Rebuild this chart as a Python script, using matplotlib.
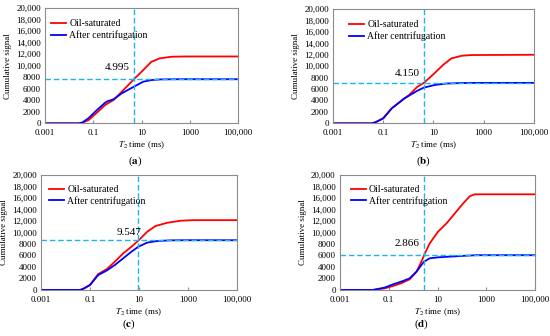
import numpy as np
import matplotlib.pyplot as plt
from matplotlib.ticker import FixedLocator, FuncFormatter

plt.rcParams['font.family'] = ['Liberation Serif', 'DejaVu Serif']
plt.rcParams['mathtext.fontset'] = 'stix'

# log10(T2) positions and cumulative signal
# panel (a)
a_red_x = [-3, -1.6, -1.45, -1.19, -0.85, -0.51, -0.16, 0.18, 0.68, 1.07, 1.41, 1.75, 2.23, 2.8, 5.0]
a_red_y = [0, 0, 100, 570, 1840, 3170, 4040, 5480, 7630, 9240, 10680, 11270, 11550, 11600, 11600]
a_blue_x = [-3, -1.6, -1.45, -1.19, -0.85, -0.51, -0.4, -0.16, 0.18, 0.68, 1.07, 1.41, 1.8, 2.5, 5.0]
a_blue_y = [0, 0, 150, 900, 2300, 3570, 3850, 4160, 5200, 6350, 7220, 7510, 7620, 7650, 7650]

# panel (b)
b_red_x = [-3, -1.45, -1.3, -1.0, -0.66, -0.32, 0.03, 0.36, 0.61, 1.04, 1.38, 1.72, 2.13, 2.5, 5.0]
b_red_y = [0, 0, 200, 870, 2620, 3790, 4950, 6400, 7050, 8750, 10200, 11370, 11830, 11950, 12000]
b_blue_x = [-3, -1.45, -1.3, -1.0, -0.66, -0.32, -0.18, 0.36, 0.61, 1.04, 1.5, 2.13, 2.8, 5.0]
b_blue_y = [0, 0, 200, 870, 2620, 3790, 4300, 5700, 6230, 6700, 6960, 7050, 7080, 7080]

# panel (c)
c_red_x = [-3, -1.4, -1.25, -1.0, -0.66, -0.32, 0.02, 0.36, 0.70, 0.98, 1.34, 1.68, 2.16, 2.7, 3.2, 5.0]
c_red_y = [0, 0, 250, 870, 2780, 3600, 4930, 6380, 7540, 8600, 10140, 11130, 11700, 12050, 12150, 12150]
c_blue_x = [-3, -1.4, -1.25, -1.0, -0.66, -0.32, 0.02, 0.36, 0.70, 0.98, 1.34, 1.75, 2.3, 3.0, 5.0]
c_blue_y = [0, 0, 250, 850, 2600, 3360, 4350, 5510, 6670, 7540, 8240, 8520, 8640, 8660, 8660]

# panel (d)
d_red_x = [-3, -1.65, -1.16, -0.82, -0.49, -0.14, 0.14, 0.34, 0.45, 0.68, 1.02, 1.37, 1.71, 2.05, 2.33, 2.53, 5.0]
d_red_y = [0, 0, 290, 700, 1160, 1860, 3190, 4930, 6070, 8120, 10140, 11600, 13340, 15070, 16350, 16650, 16650]
d_blue_x = [-3, -1.65, -1.16, -0.82, -0.49, -0.14, 0.14, 0.34, 0.45, 0.68, 1.02, 1.5, 2.2, 2.6, 5.0]
d_blue_y = [0, 0, 420, 990, 1450, 2030, 3190, 4350, 4930, 5510, 5680, 5800, 5970, 6050, 6050]

cutoffs = [4.995, 4.150, 9.547, 2.866]
cutoff_labels = ['4.995', '4.150', '9.547', '2.866']
hlines = [7650, 7080, 8660, 6050]
letters = ['a', 'b', 'c', 'd']

x_ticks = [0.001, 0.1, 10, 1000, 100000]
x_ticklabels = ['0.001', '0.1', '10', '1000', '100,000']
y_ticks = list(range(0, 20001, 2000))


def yfmt(v, pos):
    v = int(v)
    return f'{v:,}' if v >= 10000 else str(v)


panels = [
    (a_red_x, a_red_y, a_blue_x, a_blue_y),
    (b_red_x, b_red_y, b_blue_x, b_blue_y),
    (c_red_x, c_red_y, c_blue_x, c_blue_y),
    (d_red_x, d_red_y, d_blue_x, d_blue_y),
]

# axes boxes in figure fractions
boxes = [
    [0.0818, 0.633, 0.351, 0.343],
    [0.6055, 0.633, 0.365, 0.340],
    [0.0745, 0.137, 0.356, 0.342],
    [0.618, 0.137, 0.355, 0.342],
]
caption_pos = [(0.245, 0.52), (0.77, 0.52), (0.235, 0.035), (0.767, 0.035)]
label_offsets = [(-3.5, 5), (-3, 3.5), (2, 2.5), (-3.5, 5.5)]
legend_anchor = [(-0.01, 0.97), (0.04, 0.97), (0.0, 0.98), (0.015, 0.98)]

fig = plt.figure(figsize=(5.5, 3.36), dpi=100)

for i, (rx, ry, bx, by) in enumerate(panels):
    ax = fig.add_axes(boxes[i])
    ax.plot(10 ** np.array(rx), ry, color='#ff0000', lw=1.3, label='Oil-saturated')
    ax.plot(10 ** np.array(bx), by, color='#0000ff', lw=1.3, label='After centrifugation')
    ax.axvline(cutoffs[i], color='#1eb4f0', lw=1.0, ls=(0, (4, 2)))
    ax.axhline(hlines[i], color='#1eb4f0', lw=1.0, ls=(0, (4, 2)))
    ax.annotate(cutoff_labels[i], (cutoffs[i], hlines[i]), xytext=label_offsets[i],
                textcoords='offset points', ha='right', va='bottom', fontsize=8)
    ax.set_xscale('log')
    ax.set_xlim(0.001, 100000)
    ax.set_ylim(0, 20000)
    ax.xaxis.set_major_locator(FixedLocator(x_ticks))
    ax.xaxis.set_minor_locator(FixedLocator([]))
    ax.set_xticklabels(x_ticklabels)
    ax.yaxis.set_major_locator(FixedLocator(y_ticks))
    ax.yaxis.set_major_formatter(FuncFormatter(yfmt))
    ax.tick_params(axis='y', length=0, labelsize=6.5, pad=3)
    ax.tick_params(axis='x', direction='in', length=2, width=0.8, color='#8c8c8c',
                   labelsize=6.5, pad=4)
    for s in ax.spines.values():
        s.set_color('#8c8c8c')
        s.set_linewidth(0.8)
    ax.set_xlabel(r'$\it{T}_2$ time (ms)', fontsize=6.5, labelpad=2)
    ax.set_ylabel('Cumulative signal', fontsize=6.5, labelpad=3)
    ax.legend(loc='upper left', bbox_to_anchor=legend_anchor[i], frameon=False, fontsize=7,
              handlelength=1.6, handletextpad=0.3, labelspacing=0.2, borderaxespad=0.4)
    fig.text(caption_pos[i][0], caption_pos[i][1], '(' + r'$\mathbf{' + letters[i] + '}$' + ')',
             ha='center', va='center', fontsize=8)

fig.savefig('out.png', dpi=100)
